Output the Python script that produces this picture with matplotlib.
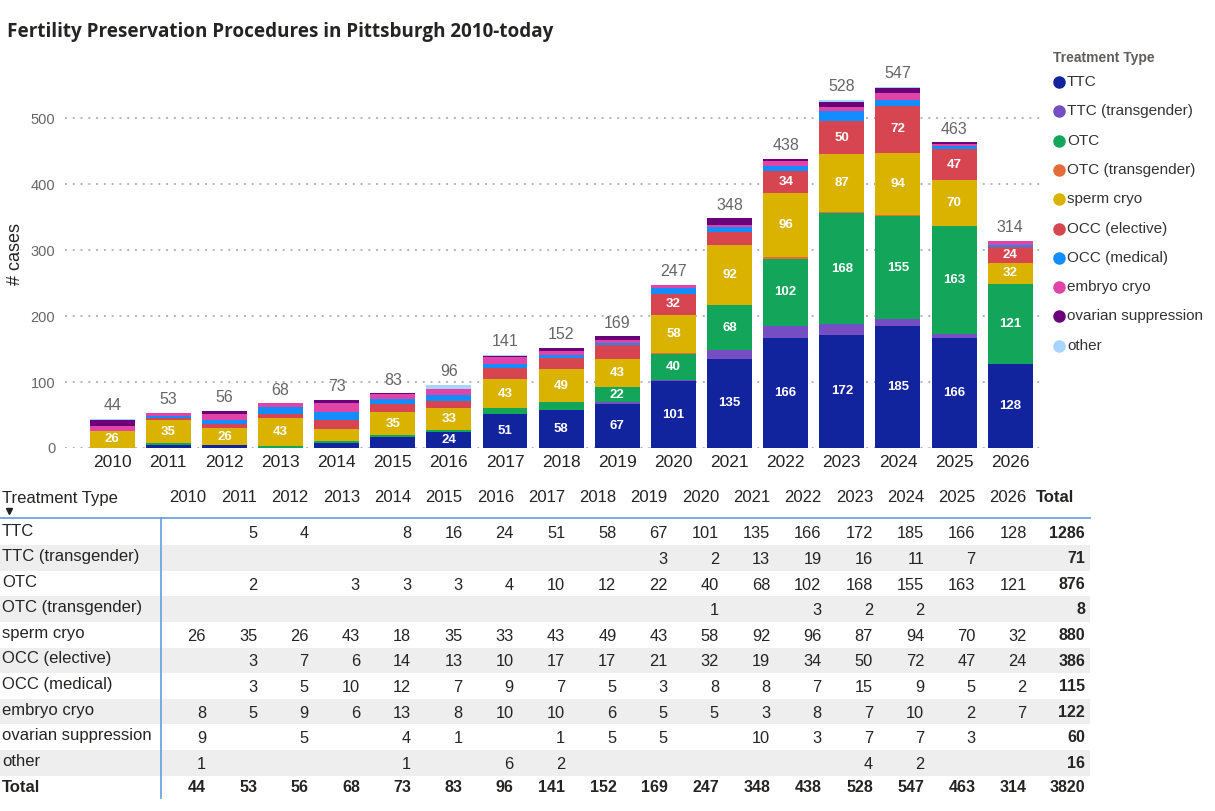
import matplotlib
matplotlib.use("Agg")
import matplotlib.pyplot as plt
from matplotlib.patches import Rectangle
import numpy as np

# ---------------- data ----------------
years = [2010, 2011, 2012, 2013, 2014, 2015, 2016, 2017, 2018,
         2019, 2020, 2021, 2022, 2023, 2024, 2025, 2026]
categories = ["TTC", "TTC (transgender)", "OTC", "OTC (transgender)", "sperm cryo",
              "OCC (elective)", "OCC (medical)", "embryo cryo", "ovarian suppression", "other"]

ttc =          [0, 5, 4, 0, 8, 16, 24, 51, 58, 67, 101, 135, 166, 172, 185, 166, 128]
ttc_trans =    [0, 0, 0, 0, 0, 0, 0, 0, 0, 3, 2, 13, 19, 16, 11, 7, 0]
otc =          [0, 2, 0, 3, 3, 3, 4, 10, 12, 22, 40, 68, 102, 168, 155, 163, 121]
otc_trans =    [0, 0, 0, 0, 0, 0, 0, 0, 0, 0, 1, 0, 3, 2, 2, 0, 0]
sperm_cryo =   [26, 35, 26, 43, 18, 35, 33, 43, 49, 43, 58, 92, 96, 87, 94, 70, 32]
occ_elective = [0, 3, 7, 6, 14, 13, 10, 17, 17, 21, 32, 19, 34, 50, 72, 47, 24]
occ_medical =  [0, 3, 5, 10, 12, 7, 9, 7, 5, 3, 8, 8, 7, 15, 9, 5, 2]
embryo_cryo =  [8, 5, 9, 6, 13, 8, 10, 10, 6, 5, 5, 3, 8, 7, 10, 2, 7]
ovarian_supp = [9, 0, 5, 0, 4, 1, 0, 1, 5, 5, 0, 10, 3, 7, 7, 3, 0]
other =        [1, 0, 0, 0, 1, 0, 6, 2, 0, 0, 0, 0, 0, 4, 2, 0, 0]

series = [ttc, ttc_trans, otc, otc_trans, sperm_cryo,
          occ_elective, occ_medical, embryo_cryo, ovarian_supp, other]
colors = ["#12239E", "#744EC2", "#13A65A", "#E66C37", "#D9B300",
          "#D64550", "#118DFF", "#E044A7", "#6B007B", "#A8D4FF"]

y_ticks = [0, 100, 200, 300, 400, 500]

# ---------------- figure ----------------
W, H = 1215, 811
fig = plt.figure(figsize=(W / 100, H / 100), dpi=100)
fig.patch.set_facecolor("white")

TXT = "#252423"
SANS = ["Liberation Sans", "DejaVu Sans"]

ax = fig.add_axes([65 / W, 1 - 448 / H, (1045 - 65) / W, (448 - 60) / H])
x = np.arange(len(years))
bottom = np.zeros(len(years))
for vals, col in zip(series, colors):
    v = np.array(vals, dtype=float)
    ax.bar(x, v, 0.8, bottom=bottom, color=col, linewidth=0, zorder=2)
    for xi, vi, bi in zip(x, v, bottom):
        if vi >= 22:
            ax.text(xi, bi + vi / 2, str(int(vi)), ha="center", va="center",
                    color="white", fontsize=9.5, fontweight="bold", family=SANS, zorder=3)
    bottom += v
totals = bottom.copy()
for xi, t in zip(x, totals):
    ax.annotate(str(int(t)), (xi, t), xytext=(0, 4), textcoords="offset points",
                ha="center", va="bottom", color="#666666", fontsize=11.5, family=SANS)

ax.set_xlim(-0.84, 16.62)
ax.set_ylim(0, 588)
ax.set_yticks(y_ticks)
ax.grid(axis="y", linestyle=(0, (1, 3)), color="#B4B4B4", linewidth=1.4, zorder=0)
ax.set_axisbelow(True)
for s in ax.spines.values():
    s.set_visible(False)
ax.tick_params(axis="both", length=0)
ax.tick_params(axis="y", labelsize=10.5, labelcolor="#666666", pad=7)
ax.set_xticks(x)
ax.set_xticklabels([str(y) for y in years], fontsize=12.5, color=TXT, family=SANS)
for lab in ax.get_yticklabels():
    lab.set_family(SANS)
ax.tick_params(axis="x", pad=5)
ax.set_ylabel("# cases", fontsize=13, color=TXT, family=SANS)
ax.yaxis.set_label_coords(-0.042, 0.50)

# ---------------- overlay (title, legend, table) ----------------
oax = fig.add_axes([0, 0, 1, 1])
oax.set_xlim(0, W)
oax.set_ylim(H, 0)
oax.axis("off")

oax.text(7, 32, "Fertility Preservation Procedures in Pittsburgh 2010-today",
         fontsize=13.6, fontweight="bold", family=["Open Sans", "DejaVu Sans"],
         color=TXT, va="center", ha="left")

# legend
oax.text(1053, 58, "Treatment Type", fontsize=10, fontweight="bold", color="#605E5C",
         family=SANS, va="center", ha="left")
for i, (cat, col) in enumerate(zip(categories, colors)):
    yy = 82 + i * 29.3
    oax.plot([1059], [yy], marker="o", ms=8, color=col, mec=col, linestyle="none")
    oax.text(1067, yy, cat, fontsize=11, color="#333333", family=SANS, va="center", ha="left")

# table
col_right = [206 + j * 51.3 for j in range(len(years))]
total_right = 1085
header_y = 498
oax.text(2, header_y, "Treatment Type", fontsize=12, color=TXT, family=SANS,
         va="center", ha="left")
oax.plot([9], [511], marker="v", ms=5, color="#222222", linestyle="none")
for j, yr in enumerate(years):
    oax.text(col_right[j], header_y, str(yr), fontsize=12, color=TXT, family=SANS,
             va="center", ha="right")
oax.text(1074, header_y, "Total", fontsize=12, fontweight="bold", color=TXT, family=SANS,
         va="center", ha="right")

row0 = 531
step = 25.6
for i, (cat, vals) in enumerate(zip(categories, series)):
    yc = row0 + i * step
    if i % 2 == 1:
        oax.add_patch(Rectangle((0, yc - 11.5), 1090, step, facecolor="#EEEEEE",
                                edgecolor="none", zorder=0))
    oax.text(2, yc, cat, fontsize=12, color=TXT, family=SANS, va="center", ha="left")
    for j, v in enumerate(vals):
        if v:
            oax.text(col_right[j], yc + 3, str(v), fontsize=11.8, color=TXT, family=SANS,
                     va="center", ha="right")
    oax.text(total_right, yc + 2, str(int(sum(vals))), fontsize=11.5, fontweight="bold",
             color=TXT, family=SANS, va="center", ha="right")

yc = row0 + len(categories) * step
oax.text(2, yc, "Total", fontsize=12, fontweight="bold", color=TXT, family=SANS,
         va="center", ha="left")
for j, t in enumerate(totals):
    oax.text(col_right[j], yc + 1, str(int(t)), fontsize=11.5, fontweight="bold",
             color=TXT, family=SANS, va="center", ha="right")
oax.text(total_right, yc + 1, str(int(totals.sum())), fontsize=11.5, fontweight="bold",
         color=TXT, family=SANS, va="center", ha="right")

oax.plot([161, 161], [518, 798], color="#6CA6E0", lw=1.3, zorder=1)
oax.plot([0, 1090], [518, 518], color="#6CA6E0", lw=1.3, zorder=1)

fig.savefig("out.png", dpi=100, facecolor="white")
